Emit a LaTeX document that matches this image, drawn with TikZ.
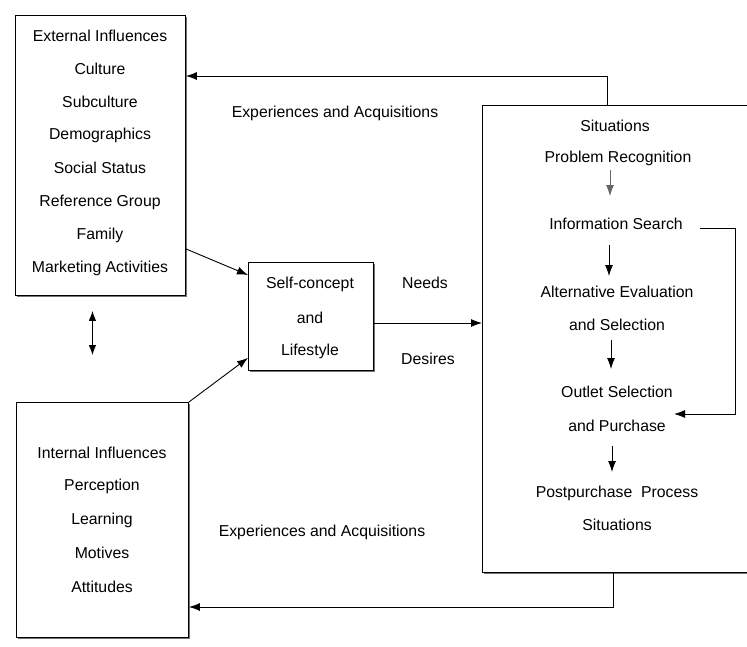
\documentclass[tikz,border=0pt]{standalone}
\usepackage{fontspec}
\setmainfont{Liberation Sans}
\usetikzlibrary{arrows.meta,calc,shadows}
\begin{document}
\begin{tikzpicture}[x=1pt,y=-1pt,
  every node/.style={font=\fontsize{15.8}{18}\selectfont},
  box/.style={draw=black,line width=0.9pt,fill=white,anchor=north west,inner sep=0pt,
     drop shadow={shadow xshift=1.8pt,shadow yshift=-1.8pt,fill=black!55,opacity=1}},
  lbl/.style={inner sep=1pt},
  arr/.style={line width=0.9pt,-{Latex[length=11pt,width=8pt]}},
  darr/.style={line width=0.9pt,{Latex[length=10pt,width=7.5pt]}-{Latex[length=10pt,width=7.5pt]}}]
\useasboundingbox (0,0) rectangle (747,646);
\clip (0,0) rectangle (747,646);
\fill[white] (0,0) rectangle (747,646);

% boxes
\node[box,minimum width=170,minimum height=280] (ext) at (15,15) {};
\node[box,minimum width=172,minimum height=235] (int) at (16,402) {};
\node[box,minimum width=125,minimum height=108] (self) at (248,262) {};
\node[box,minimum width=290,minimum height=467] (sit) at (482,105) {};

% external influences
\node[lbl] (e1) at (100,36) {External Influences};
\node[lbl] (e2) at (100,69) {Culture};
\node[lbl] (e3) at (100,102) {Subculture};
\node[lbl] (e4) at (100,135) {Demographics};
\node[lbl] (e5) at (100,168) {Social Status};
\node[lbl] (e6) at (100,202) {Reference Group};
\node[lbl] (e7) at (100,235) {Family};
\node[lbl] (e8) at (100,268) {Marketing Activities};

% internal influences
\node[lbl] (i1) at (102,453) {Internal Influences};
\node[lbl] (i2) at (102,486) {Perception};
\node[lbl] (i3) at (102,520) {Learning};
\node[lbl] (i4) at (102,553) {Motives};
\node[lbl] (i5) at (102,587) {Attitudes};

% self concept
\node[lbl] (s1) at (310,284) {Self-concept};
\node[lbl] (s2) at (310,318) {and};
\node[lbl] (s3) at (310,351) {Lifestyle};

% labels
\node[lbl] (needs) at (425,283) {Needs};
\node[lbl] (desires) at (428,359) {Desires};
\node[lbl] (exp1) at (335,113) {Experiences and Acquisitions};
\node[lbl] (exp2) at (322,532) {Experiences and Acquisitions};

% situations content
\node[lbl] (st1) at (615,126) {Situations};
\node[lbl] (pr) at (618,158) {Problem Recognition};
\node[lbl] (is) at (616,224) {Information Search};
\node[lbl] (ae) at (617,292) {Alternative Evaluation};
\node[lbl] (as) at (617,325) {and Selection};
\node[lbl] (os) at (617,392) {Outlet Selection};
\node[lbl] (op) at (617,426) {and Purchase};
\node[lbl] (pp) at (617,493) {Postpurchase~ Process};
\node[lbl] (st2) at (617,525) {Situations};

% coordinates
\coordinate (c1) at (607,76);
\coordinate (c2) at (613,607);
\coordinate (ns) at (373,323);
\coordinate (fb) at (735,414);
\coordinate (fbe) at (674,414);

% connectors
\draw[arr] (sit.north -| c1) |- (ext.east |- c1);
\draw[arr] (sit.south -| c2) |- (int.east |- c2);
\draw[arr] ($(ext.south east)+(0,-47)$) -- ($(self.north west)+(0,13)$);
\draw[arr] (int.north east) -- ($(self.south west)+(0,-13)$);
\draw[arr] (ns) -- (sit.west |- ns);
\draw[darr] ($(ext.south)+(-8,15)$) -- ($(int.north)+(-10,-47)$);

\draw[arr,draw=black!60] ($(pr)+(-8,12)$) -- ($(pr)+(-8,38)$);
\draw[arr] ($(is)+(-7,21)$) -- ($(is)+(-7,52)$);
\draw[arr] ($(as)+(-6,15)$) -- ($(as)+(-6,44)$);
\draw[arr] ($(op)+(-5,20)$) -- ($(op)+(-5,46)$);
\draw[arr] ($(is.east)+(16,4)$) -| (fb) -- (fbe);
\end{tikzpicture}
\end{document}
